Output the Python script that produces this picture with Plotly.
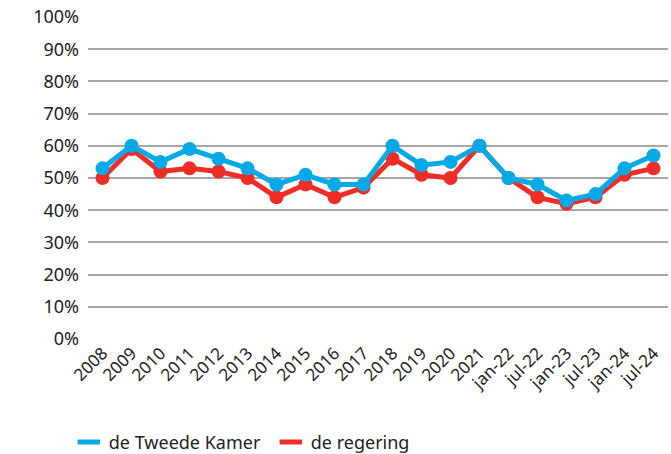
import plotly.graph_objects as go

categories = ["2008", "2009", "2010", "2011", "2012", "2013", "2014", "2015", "2016", "2017",
              "2018", "2019", "2020", "2021", "jan-22", "jul-22", "jan-23", "jul-23", "jan-24", "jul-24"]
tweede_kamer = [53, 60, 55, 59, 56, 53, 48, 51, 48, 48, 60, 54, 55, 60, 50, 48, 43, 45, 53, 57]
regering = [50, 59, 52, 53, 52, 50, 44, 48, 44, 47, 56, 51, 50, 60, 50, 44, 42, 44, 51, 53]
y_ticks = list(range(0, 101, 10))

BLUE = "#04A9E6"
RED = "#EE2E26"
FONT = "Noto Sans"

fig = go.Figure()
fig.add_trace(go.Scatter(x=categories, y=regering, mode="lines+markers", name="de regering",
                         line=dict(color=RED, width=5), marker=dict(size=14, color=RED),
                         showlegend=False))
fig.add_trace(go.Scatter(x=categories, y=tweede_kamer, mode="lines+markers", name="de Tweede Kamer",
                         line=dict(color=BLUE, width=5), marker=dict(size=14, color=BLUE),
                         showlegend=False))
# legend entries (short line symbols only)
fig.add_trace(go.Scatter(x=[None], y=[None], mode="markers", name="de Tweede Kamer",
                         marker=dict(symbol="line-ew", size=18, color=BLUE,
                                     line=dict(width=6, color=BLUE))))
fig.add_trace(go.Scatter(x=[None], y=[None], mode="markers", name="de regering",
                         marker=dict(symbol="line-ew", size=18, color=RED,
                                     line=dict(width=6, color=RED))))

fig.update_layout(
    width=671, height=454,
    margin=dict(l=88, r=3, t=17, b=115),
    plot_bgcolor="white", paper_bgcolor="white",
    font=dict(family=FONT, size=18, color="#222222"),
    showlegend=True,
    legend=dict(orientation="h", xref="container", yref="container",
                x=0.1025, y=0.026, xanchor="left", yanchor="middle",
                font=dict(size=18), itemwidth=30, traceorder="normal",
                entrywidth=157, entrywidthmode="pixels"),
)
fig.update_xaxes(type="category", categoryorder="array", categoryarray=categories,
                 tickangle=-45, showgrid=False, showline=False, ticks="",
                 tickfont=dict(size=17), range=[-0.5, len(categories) - 0.5])
fig.update_yaxes(range=[0, 100], tickvals=y_ticks, ticktext=[f"{v}%" for v in y_ticks],
                 showgrid=True, gridcolor="#A6A6A6", gridwidth=1.5, zeroline=False,
                 showline=False, ticks="", ticklabelstandoff=8)

fig.write_html("out.html", config={"displayModeBar": False},
               post_script="document.body.style.margin='0';")
